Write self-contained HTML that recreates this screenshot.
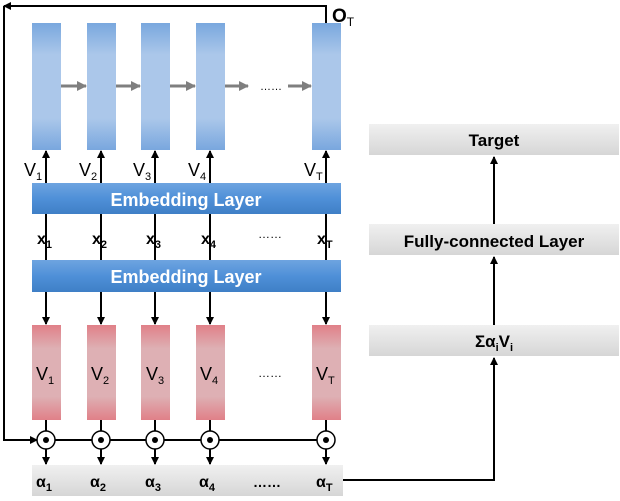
<!DOCTYPE html><html><head><style>body{margin:0;background:#fff}</style></head><body>
<svg width="620" height="496" xmlns="http://www.w3.org/2000/svg" font-family="Liberation Sans, sans-serif">
<defs>
<linearGradient id="bl" x1="0" y1="0" x2="0" y2="1"><stop offset="0" stop-color="#79a7de"/><stop offset=".25" stop-color="#abc7ea"/><stop offset=".75" stop-color="#abc7ea"/><stop offset="1" stop-color="#79a7de"/></linearGradient>
<linearGradient id="rd" x1="0" y1="0" x2="0" y2="1"><stop offset="0" stop-color="#e08088"/><stop offset=".25" stop-color="#deb0b4"/><stop offset=".75" stop-color="#deb0b4"/><stop offset="1" stop-color="#e08088"/></linearGradient>
<linearGradient id="em" x1="0" y1="0" x2="0" y2="1"><stop offset="0" stop-color="#6ea4e0"/><stop offset=".5" stop-color="#4f90d8"/><stop offset="1" stop-color="#3f7fc6"/></linearGradient>
<linearGradient id="gr" x1="0" y1="0" x2="0" y2="1"><stop offset="0" stop-color="#f0f0f0"/><stop offset="1" stop-color="#d6d6d6"/></linearGradient>
<marker id="a" markerWidth="8" markerHeight="8" refX="7" refY="4" orient="auto" markerUnits="userSpaceOnUse"><path d="M0,0 L8,4 L0,8z" fill="#000"/></marker>
<marker id="g" markerWidth="10" markerHeight="10" refX="9" refY="5" orient="auto" markerUnits="userSpaceOnUse"><path d="M0,0 L10,5 L0,10z" fill="#7f7f7f"/></marker>
</defs>
<g stroke="#000" stroke-width="2" fill="none">
<polyline points="326,23 326,6 4,6" marker-end="url(#a)"/>
<polyline points="4,6 4,440 37,440" marker-end="url(#a)"/>
<line x1="55" y1="440" x2="317" y2="440"/>
<polyline points="343,480 494,480 494,358" marker-end="url(#a)"/>
<line x1="494" y1="224" x2="494" y2="157" marker-end="url(#a)"/>
<line x1="494" y1="325" x2="494" y2="257" marker-end="url(#a)"/>
</g>
<g stroke="#7f7f7f" stroke-width="3">
<line x1="61" y1="86" x2="86" y2="86" marker-end="url(#g)"/>
<line x1="116" y1="86" x2="140" y2="86" marker-end="url(#g)"/>
<line x1="170" y1="86" x2="195" y2="86" marker-end="url(#g)"/>
<line x1="225" y1="86" x2="248" y2="86" marker-end="url(#g)"/>
<line x1="288" y1="86" x2="311" y2="86" marker-end="url(#g)"/>
</g>
<text x="260" y="90" font-size="11" fill="#000">……</text>
<g id="cols">
<rect x="32" y="23" width="29" height="127" fill="url(#bl)"/>
<rect x="87" y="23" width="29" height="127" fill="url(#bl)"/>
<rect x="141" y="23" width="29" height="127" fill="url(#bl)"/>
<rect x="196" y="23" width="29" height="127" fill="url(#bl)"/>
<rect x="312" y="23" width="29" height="127" fill="url(#bl)"/>
<rect x="32" y="325" width="29" height="95" fill="url(#rd)"/>
<rect x="87" y="325" width="29" height="95" fill="url(#rd)"/>
<rect x="141" y="325" width="29" height="95" fill="url(#rd)"/>
<rect x="196" y="325" width="29" height="95" fill="url(#rd)"/>
<rect x="312" y="325" width="29" height="95" fill="url(#rd)"/>
</g>
<g stroke="#000" stroke-width="2" fill="none">
<line x1="46" y1="183" x2="46" y2="151" marker-end="url(#a)"/>
<line x1="101" y1="183" x2="101" y2="151" marker-end="url(#a)"/>
<line x1="155" y1="183" x2="155" y2="151" marker-end="url(#a)"/>
<line x1="210" y1="183" x2="210" y2="151" marker-end="url(#a)"/>
<line x1="326" y1="183" x2="326" y2="151" marker-end="url(#a)"/>
<line x1="46" y1="214" x2="46" y2="260"/><line x1="101" y1="214" x2="101" y2="260"/><line x1="155" y1="214" x2="155" y2="260"/><line x1="210" y1="214" x2="210" y2="260"/><line x1="326" y1="214" x2="326" y2="260"/>
<line x1="46" y1="292" x2="46" y2="324" marker-end="url(#a)"/>
<line x1="101" y1="292" x2="101" y2="324" marker-end="url(#a)"/>
<line x1="155" y1="292" x2="155" y2="324" marker-end="url(#a)"/>
<line x1="210" y1="292" x2="210" y2="324" marker-end="url(#a)"/>
<line x1="326" y1="292" x2="326" y2="324" marker-end="url(#a)"/>
<line x1="46" y1="420" x2="46" y2="431"/><line x1="101" y1="420" x2="101" y2="431"/><line x1="155" y1="420" x2="155" y2="431"/><line x1="210" y1="420" x2="210" y2="431"/><line x1="326" y1="420" x2="326" y2="431"/>
<line x1="46" y1="449" x2="46" y2="464" marker-end="url(#a)"/>
<line x1="101" y1="449" x2="101" y2="464" marker-end="url(#a)"/>
<line x1="155" y1="449" x2="155" y2="464" marker-end="url(#a)"/>
<line x1="210" y1="449" x2="210" y2="464" marker-end="url(#a)"/>
<line x1="326" y1="449" x2="326" y2="464" marker-end="url(#a)"/>
</g>
<g stroke="#000" stroke-width="1.5" fill="#fff">
<circle cx="46" cy="440" r="9"/><circle cx="101" cy="440" r="9"/><circle cx="155" cy="440" r="9"/><circle cx="210" cy="440" r="9"/><circle cx="326" cy="440" r="9"/>
</g>
<g fill="#000"><circle cx="46" cy="440" r="3"/><circle cx="101" cy="440" r="3"/><circle cx="155" cy="440" r="3"/><circle cx="210" cy="440" r="3"/><circle cx="326" cy="440" r="3"/></g>
<rect x="32" y="183" width="309" height="31" fill="url(#em)"/>
<rect x="32" y="260" width="309" height="32" fill="url(#em)"/>
<text x="186" y="206" font-size="18" font-weight="bold" fill="#fff" text-anchor="middle">Embedding Layer</text>
<text x="186" y="283" font-size="18" font-weight="bold" fill="#fff" text-anchor="middle">Embedding Layer</text>
<rect x="32" y="465" width="311" height="31" fill="url(#gr)"/>
<rect x="369" y="124" width="250" height="31" fill="url(#gr)"/>
<rect x="369" y="224" width="250" height="31" fill="url(#gr)"/>
<rect x="369" y="325" width="250" height="31" fill="url(#gr)"/>
<g font-size="17" font-weight="bold" text-anchor="middle"><text x="494" y="146">Target</text><text x="494" y="247">Fully-connected Layer</text><text x="494" y="347">Σα<tspan font-size="11" dy="4">i</tspan><tspan dy="-4">V</tspan><tspan font-size="11" dy="4">i</tspan></text></g>
<text x="332" y="22" font-size="19" font-weight="bold">O<tspan font-size="12" dy="4" font-weight="normal">T</tspan></text>
<g font-size="18"><text x="24" y="176">V<tspan font-size="11" dy="4">1</tspan></text><text x="79" y="176">V<tspan font-size="11" dy="4">2</tspan></text><text x="133" y="176">V<tspan font-size="11" dy="4">3</tspan></text><text x="188" y="176">V<tspan font-size="11" dy="4">4</tspan></text><text x="304" y="176">V<tspan font-size="11" dy="4">T</tspan></text></g>
<g font-size="18"><text x="36" y="380">V<tspan font-size="11" dy="4">1</tspan></text><text x="91" y="380">V<tspan font-size="11" dy="4">2</tspan></text><text x="146" y="380">V<tspan font-size="11" dy="4">3</tspan></text><text x="200" y="380">V<tspan font-size="11" dy="4">4</tspan></text><text x="316" y="380">V<tspan font-size="11" dy="4">T</tspan></text><text x="258" y="377" font-size="12">……</text></g>
<g font-size="16" font-weight="bold"><text x="37" y="244">x<tspan font-size="11" dy="4">1</tspan></text><text x="92" y="244">x<tspan font-size="11" dy="4">2</tspan></text><text x="146" y="244">x<tspan font-size="11" dy="4">3</tspan></text><text x="201" y="244">x<tspan font-size="11" dy="4">4</tspan></text><text x="317" y="244">x<tspan font-size="11" dy="4">T</tspan></text><text x="258" y="238" font-size="12" font-weight="normal">……</text></g>
<g font-size="16" font-weight="bold"><text x="36" y="487">α<tspan font-size="11" dy="4">1</tspan></text><text x="90" y="487">α<tspan font-size="11" dy="4">2</tspan></text><text x="145" y="487">α<tspan font-size="11" dy="4">3</tspan></text><text x="199" y="487">α<tspan font-size="11" dy="4">4</tspan></text><text x="253" y="487" font-size="14">……</text><text x="316" y="487">α<tspan font-size="11" dy="4">T</tspan></text></g>
</svg>
</body></html>
